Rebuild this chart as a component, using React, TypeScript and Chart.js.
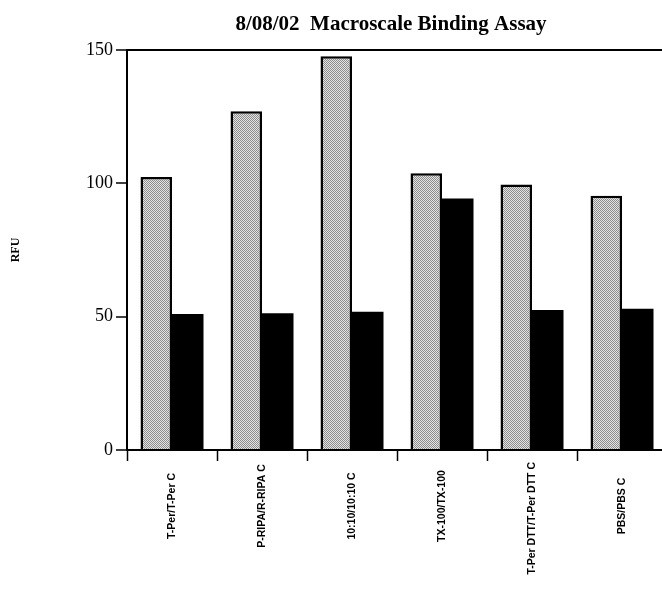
import React, { useEffect, useRef } from "react";
import { Chart, registerables } from "chart.js";

Chart.register(...registerables);

const categories = [
  "T-Per/T-Per C",
  "P-RIPA/R-RIPA C",
  "10:10/10:10 C",
  "TX-100/TX-100",
  "T-Per DTT/T-Per DTT C",
  "PBS/PBS C",
];
const graySeries = [102.4, 127, 147.7, 103.8, 99.6, 95.3];
const blackSeries = [51, 51.3, 51.8, 94.3, 52.5, 53];
const yTicks = [0, 50, 100, 150];
const chartTitle = "8/08/02  Macroscale Binding Assay";
const yTitle = "RFU";

function makePattern(): CanvasPattern | string {
  const c = document.createElement("canvas");
  c.width = 2;
  c.height = 2;
  const g = c.getContext("2d");
  if (!g) return "#b4b4b4";
  const cells = [
    ["#8c8c8c", "#e4e4e4"],
    ["#e4e4e4", "#8c8c8c"],
  ];
  for (let y = 0; y < 2; y++) {
    for (let x = 0; x < 2; x++) {
      g.fillStyle = cells[y][x];
      g.fillRect(x, y, 1, 1);
    }
  }
  const p = g.createPattern(c, "repeat");
  return p || "#b4b4b4";
}

export default function App() {
  const ref = useRef<HTMLCanvasElement | null>(null);

  useEffect(() => {
    if (!ref.current) return;
    const pattern = makePattern();

    const textPlugin = {
      id: "extraText",
      afterDraw(chart: any) {
        const ctx = chart.ctx;
        const xs = chart.scales.x;
        ctx.save();
        // title
        ctx.font = 'bold 21px "Liberation Serif", "Times New Roman", serif';
        ctx.fillStyle = "#000";
        ctx.textAlign = "center";
        ctx.textBaseline = "middle";
        ctx.fillText(chartTitle, 391, 25);
        // rotated category labels
        ctx.font = 'bold 10.5px "Liberation Sans", Arial, sans-serif';
        categories.forEach((lab, i) => {
          const x = xs.getPixelForValue(i);
          const w = ctx.measureText(lab).width;
          const cy = Math.max(506, chart.chartArea.bottom + 12 + w / 2);
          ctx.save();
          ctx.translate(x, cy);
          ctx.rotate(-Math.PI / 2);
          ctx.fillText(lab, 0, 0);
          ctx.restore();
        });
        ctx.restore();
      },
    };

    const chart = new Chart(ref.current, {
      type: "bar",
      data: {
        labels: categories,
        datasets: [
          {
            data: graySeries,
            backgroundColor: pattern as any,
            borderColor: "#000",
            borderWidth: 2.5,
            categoryPercentage: 0.7,
            barPercentage: 1.0,
          },
          {
            data: blackSeries,
            backgroundColor: "#000",
            borderColor: "#000",
            borderWidth: 0,
            categoryPercentage: 0.7,
            barPercentage: 1.0,
          },
        ],
      },
      options: {
        responsive: false,
        animation: false,
        layout: { padding: { left: 0, right: 115, top: 50, bottom: 0 } },
        plugins: {
          legend: { display: false },
          tooltip: { enabled: false },
          title: { display: false },
        },
        scales: {
          x: {
            offset: true,
            grid: {
              offset: true,
              drawOnChartArea: false,
              drawTicks: true,
              tickLength: 11,
              tickColor: "#000",
              tickWidth: 1.5,
            },
            border: { display: true, color: "#000", width: 2 },
            ticks: { display: false },
            afterFit(scale: any) {
              scale.height = 141;
            },
          },
          y: {
            min: 0,
            max: 150,
            afterBuildTicks(scale: any) {
              scale.ticks = yTicks.map((v) => ({ value: v }));
            },
            grid: {
              drawOnChartArea: true,
              color: (c: any) => (c.tick && c.tick.value === 150 ? "#000" : "rgba(0,0,0,0)"),
              lineWidth: 2,
              tickLength: 11,
              tickColor: "#000",
              tickWidth: 1.5,
            },
            border: { display: true, color: "#000", width: 2 },
            ticks: {
              color: "#000",
              padding: 3,
              font: { family: '"Liberation Serif", "Times New Roman", serif', size: 18 },
            },
            title: {
              display: true,
              text: yTitle,
              color: "#000",
              padding: { top: 9, bottom: 0 },
              font: { family: '"Liberation Serif", "Times New Roman", serif', size: 12, weight: "bold" },
            },
            afterFit(scale: any) {
              scale.width = 127;
            },
          },
        },
      },
      plugins: [textPlugin],
    });

    return () => chart.destroy();
  }, []);

  return (
    <div style={{ position: "fixed", left: 0, top: 0, width: 662, height: 591, overflow: "hidden", background: "#fff" }}>
      <canvas ref={ref} width={782} height={591} style={{ width: 782, height: 591, display: "block" }} />
    </div>
  );
}
